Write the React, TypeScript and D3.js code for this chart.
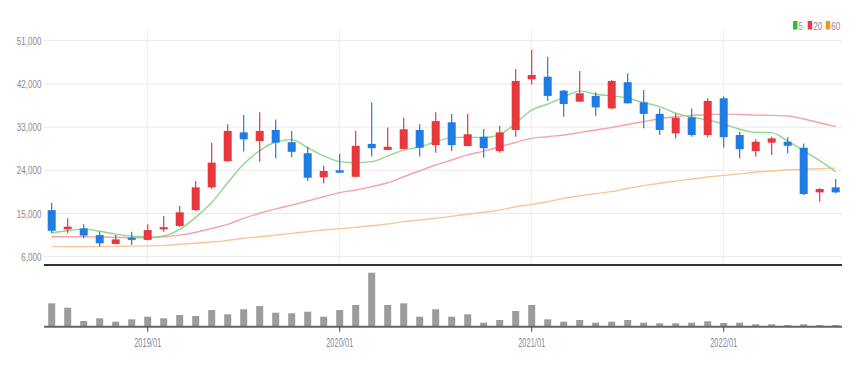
import React from "react";
import * as d3 from "d3";

const months: string[] = [
  "2018/07","2018/08","2018/09","2018/10","2018/11","2018/12",
  "2019/01","2019/02","2019/03","2019/04","2019/05","2019/06","2019/07","2019/08","2019/09","2019/10","2019/11","2019/12",
  "2020/01","2020/02","2020/03","2020/04","2020/05","2020/06","2020/07","2020/08","2020/09","2020/10","2020/11","2020/12",
  "2021/01","2021/02","2021/03","2021/04","2021/05","2021/06","2021/07","2021/08","2021/09","2021/10","2021/11","2021/12",
  "2022/01","2022/02","2022/03","2022/04","2022/05","2022/06","2022/07","2022/08",
];

const openP = [15700,11700,11900,10500,8650,9950,9500,11700,12400,15700,20450,25900,31900,30100,32400,29850,27550,22550,24000,22650,29500,28250,28450,32400,29250,34000,29050,31000,28000,32400,42950,43500,40600,38300,39500,36900,42350,38150,35750,31700,35050,31350,39000,31350,28000,29750,29950,28700,19400,20450];
const highP = [17250,14000,12750,11200,10500,11200,12750,14500,16550,21750,29750,33600,35500,36100,34600,32200,28900,24950,27400,32250,38150,32900,34950,33600,36100,35750,35750,32600,33250,45100,49050,47650,40750,44700,40250,42800,44200,40750,36900,35900,36900,39000,39350,32050,30450,31000,30900,29600,20250,22200];
const lowP = [10900,10900,9850,8100,8600,8450,9350,11200,12250,15500,20100,25800,27900,25800,26500,26700,21750,21300,23500,22550,26850,28200,28400,26850,27650,28000,29000,26600,27650,31000,41900,38450,35150,38250,35300,36700,37950,32750,31350,30650,31000,30900,28700,26500,26850,27200,27550,18850,17450,19200];
const closeP = [11400,12250,10400,8800,9600,9500,11550,12150,15250,20450,25600,32200,30450,32200,29750,27850,22450,23850,23500,29100,28600,28900,32550,28700,34250,29250,31500,28600,31900,42600,43850,39500,37800,40050,37100,42600,37950,35750,32400,34950,31350,38450,30900,28400,29950,30650,29100,19050,20100,19400];

const ma5 = [11000,11400,11750,11300,10700,10250,10100,10350,11700,14200,17300,21400,25300,28100,29900,30400,28700,27000,25800,25600,25800,27000,28200,28900,29950,30800,30900,30800,31450,33800,36550,37800,39200,40550,39850,39500,39000,38100,37250,35900,35050,34500,33650,32550,31900,31850,30100,28100,26000,23700];
const ma20 = [10150,10150,10150,10100,10050,9950,9950,10150,10500,11100,11900,12750,14000,15050,15950,16750,17600,18500,19350,19900,20600,21400,22650,23900,25100,26150,27200,28000,28900,29800,30650,31000,31350,31850,32400,32900,33550,34150,34750,35150,35450,35600,35700,35650,35500,35450,35300,34700,33900,33100];
const ma60 = [8100,8100,8100,8150,8150,8200,8250,8350,8600,8800,9050,9400,9850,10150,10500,10850,11200,11550,11850,12100,12450,12800,13300,13650,14000,14400,14850,15250,15700,16400,16900,17450,18150,18700,19150,19550,20250,20800,21300,21750,22200,22600,22950,23250,23600,23850,24050,24200,24350,24450];

const volume = [2340,1900,570,840,500,740,1000,840,1170,1070,1670,1240,1740,2070,1400,1340,1500,1000,1670,2170,5400,2170,2340,1000,1740,1000,1240,400,670,1570,2170,740,500,670,400,500,670,400,340,340,400,540,370,400,240,240,170,240,170,170];

const priceTicks = [6000, 15000, 24000, 33000, 42000, 51000];
const yearTicks = ["2019/01", "2020/01", "2021/01", "2022/01"];

const legendItems = [
  { label: "5", color: "#2fbf3a" },
  { label: "20", color: "#ee3a46" },
  { label: "60", color: "#f7941e" },
];

const UP = "#e8383d";
const DOWN = "#1f7ce3";
const FONT = "'Liberation Sans', Arial, sans-serif";

const labelLen = (s: string) => {
  let n = 0;
  for (const ch of s) n += /[0-9]/.test(ch) ? 4.5 : 2.2;
  return n;
};

export default function App() {
  const W = 860, H = 368;
  const x = d3.scaleBand<string>().domain(months).range([43.7, 843.7]).padding(0);
  const cx = (m: string) => (x(m) as number) + x.bandwidth() / 2;
  const y = d3.scaleLinear().domain([6000, 51000]).range([256.7, 40.7]);
  const yv = d3.scaleLinear().domain([0, 6000]).range([326.7, 266.7]);

  const lineGen = (vals: number[]) =>
    d3.line<number>().x((_, i) => cx(months[i])).y((v) => y(v)).curve(d3.curveMonotoneX)(vals) as string;

  const bodyW = 8;
  const volW = 7;
  const legendX = [793, 807.7, 825.7];

  return (
    <svg width={W} height={H} style={{ position: "absolute", left: 0, top: 0, background: "#fff" }} fontFamily={FONT}>
      {priceTicks.map((t) => {
        const s = d3.format(",")(t);
        return (
          <g key={t}>
            <line x1={44} x2={842} y1={y(t)} y2={y(t)} stroke="#e9e9e9" strokeWidth={1} />
            <text x={41.5} y={y(t)} dy="0.35em" textAnchor="end" fontSize={11.5} fill="#8a8a8a"
              textLength={labelLen(s)} lengthAdjust="spacingAndGlyphs">
              {s}
            </text>
          </g>
        );
      })}
      {yearTicks.map((m) => (
        <line key={m} x1={cx(m)} x2={cx(m)} y1={30} y2={264} stroke="#ececec" strokeWidth={1} />
      ))}
      <path d={lineGen(ma60)} fill="none" stroke="#f9c597" strokeWidth={1.4} />
      <path d={lineGen(ma20)} fill="none" stroke="#f5a3ab" strokeWidth={1.4} />
      <path d={lineGen(ma5)} fill="none" stroke="#8fd68f" strokeWidth={1.4} />
      {months.map((m, i) => {
        const up = closeP[i] >= openP[i];
        const c = up ? UP : DOWN;
        const top = y(Math.max(openP[i], closeP[i]));
        const bot = y(Math.min(openP[i], closeP[i]));
        const xc = cx(m);
        return (
          <g key={m}>
            <line x1={xc} x2={xc} y1={y(highP[i])} y2={y(lowP[i])} stroke={c} strokeWidth={1.2} />
            <rect x={xc - bodyW / 2} y={top} width={bodyW} height={Math.max(1.5, bot - top)} fill={c} />
          </g>
        );
      })}
      <line x1={44} x2={842} y1={265} y2={265} stroke="#333" strokeWidth={2} />
      {months.map((m, i) => (
        <rect key={m} x={cx(m) - volW / 2} y={yv(volume[i])} width={volW} height={yv(0) - yv(volume[i])} fill="#9c9c9c" />
      ))}
      <line x1={44} x2={842} y1={yv(0)} y2={yv(0)} stroke="#666" strokeWidth={2} />
      {yearTicks.map((m) => (
        <g key={m}>
          <line x1={cx(m)} x2={cx(m)} y1={yv(0)} y2={yv(0) + 5} stroke="#444" strokeWidth={1} />
          <text x={cx(m)} y={343} dy="0.35em" textAnchor="middle" fontSize={12} fill="#8a8a8a"
            textLength={27} lengthAdjust="spacingAndGlyphs">
            {m}
          </text>
        </g>
      ))}
      {legendItems.map((it, i) => (
        <g key={it.label}>
          <rect x={legendX[i]} y={21} width={4.5} height={8.5} fill={it.color} />
          <text x={legendX[i] + 5.5} y={25.5} dy="0.35em" fontSize={11.5} fill="#888"
            textLength={it.label.length === 1 ? 4 : 9} lengthAdjust="spacingAndGlyphs">
            {it.label}
          </text>
        </g>
      ))}
    </svg>
  );
}
